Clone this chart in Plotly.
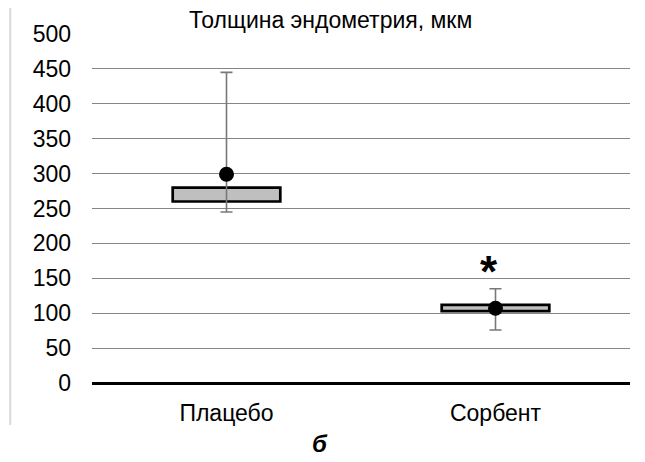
import plotly.graph_objects as go

categories = ["Плацебо", "Сорбент"]
q1 = [260, 103]
q3 = [280, 112]
lower = [245, 76]
upper = [445, 135]
mean = [299, 107]
sig_marks = ["", "*"]
sig_y = [None, 160]
y_ticks = [0, 50, 100, 150, 200, 250, 300, 350, 400, 450, 500]

FONT = "Liberation Sans, Arial, sans-serif"
FS = 23

fig = go.Figure()

# whiskers (behind boxes)
fig.add_trace(go.Scatter(
    x=categories, y=mean, mode="markers",
    marker=dict(size=1, opacity=0),
    error_y=dict(type="data", symmetric=False,
                 array=[u - m for u, m in zip(upper, mean)],
                 arrayminus=[m - l for m, l in zip(mean, lower)],
                 color="#787878", thickness=1.6, width=6),
    hoverinfo="skip", showlegend=False))

# boxes
fig.add_trace(go.Bar(
    x=categories, y=[b - a for a, b in zip(q1, q3)], base=q1, width=0.4,
    marker=dict(color="#bfbfbf", line=dict(color="black", width=2.7)),
    showlegend=False))

# means on overlay axes so they sit on top
fig.add_trace(go.Scatter(
    x=categories, y=mean, mode="markers", xaxis="x2", yaxis="y2",
    marker=dict(size=15, color="black"), showlegend=False))

for c, s, y in zip(categories, sig_marks, sig_y):
    if s:
        fig.add_annotation(x=c, y=y, text="<b>" + s + "</b>", showarrow=False,
                           xshift=-7,
                           font=dict(size=44, color="black", family=FONT))

fig.update_layout(
    width=645, height=462,
    margin=dict(l=84, r=23, t=26, b=87),
    paper_bgcolor="white", plot_bgcolor="white",
    font=dict(family=FONT, size=FS, color="black"),
    xaxis=dict(type="category", categoryorder="array", categoryarray=categories,
               range=[-0.5, 1.5], showgrid=False, showline=False, ticks="",
               ticklabelstandoff=14, tickfont=dict(size=FS)),
    yaxis=dict(range=[0, 500], tickvals=y_ticks, showgrid=True,
               gridcolor="#868686", gridwidth=1, zeroline=True,
               zerolinecolor="black", zerolinewidth=2.5, showline=False,
               ticks="", ticklabelstandoff=20, tickfont=dict(size=FS)),
    xaxis2=dict(type="category", categoryorder="array", categoryarray=categories,
                range=[-0.5, 1.5], overlaying="x", visible=False),
    yaxis2=dict(range=[0, 500], overlaying="y", visible=False),
    showlegend=False,
)

fig.add_annotation(text="Толщина эндометрия, мкм", xref="paper", yref="paper",
                   x=0.443, y=1.0, yanchor="middle", yshift=14, showarrow=False,
                   font=dict(size=FS, color="black", family=FONT))
fig.add_annotation(text="<b><i>б</i></b>", xref="paper", yref="paper",
                   x=0.424, y=0, yanchor="middle", yshift=-60, showarrow=False,
                   font=dict(size=24, color="black", family=FONT))
fig.add_shape(type="line", xref="paper", yref="paper",
              x0=-0.152, x1=-0.152, y0=1.083, y1=-0.12,
              line=dict(color="#d9d9d9", width=2))

fig.write_html("out.html")
